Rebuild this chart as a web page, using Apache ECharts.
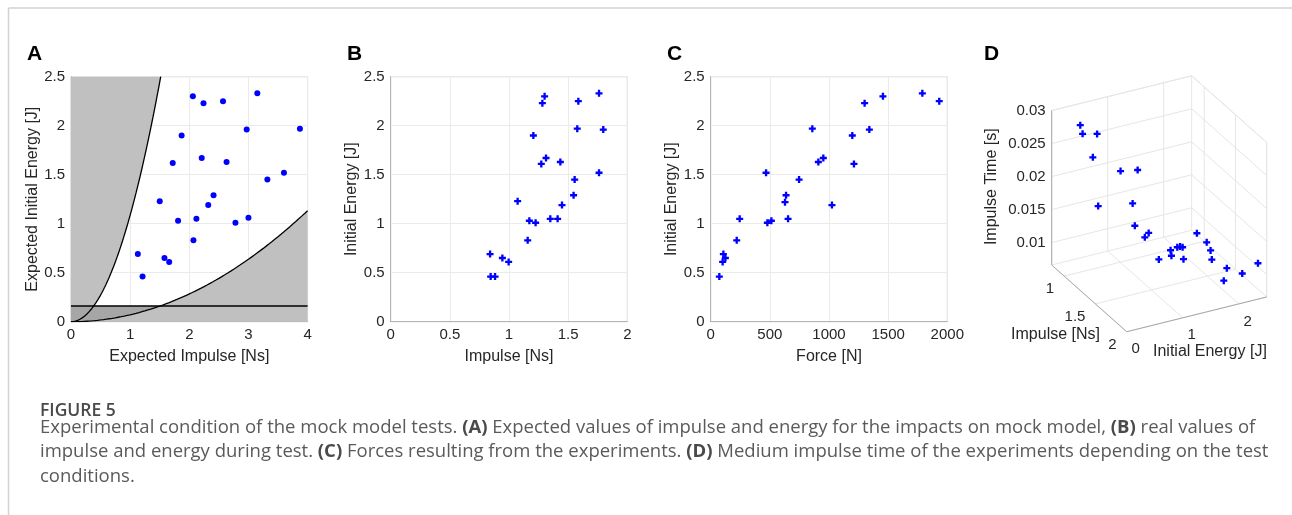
<!DOCTYPE html>
<html>
<head>
<meta charset="utf-8">
<title>Figure 5</title>
<script src="https://cdn.jsdelivr.net/npm/echarts@6/dist/echarts.min.js"></script>
<style>
  html, body { margin: 0; padding: 0; background: #fff; }
  #main { width: 1292px; height: 515px; }
</style>
</head>
<body>
<div id="main"></div>
<script>
// A: expected impulse / expected initial energy
var expImpulse = [1.13, 1.21, 1.50, 1.58, 1.66, 1.72, 1.81, 1.87, 2.06, 2.07, 2.12, 2.21, 2.24, 2.32, 2.41, 2.57, 2.63, 2.78, 2.97, 3.00, 3.15, 3.32, 3.60, 3.87];
var expEnergy  = [0.69, 0.46, 1.23, 0.65, 0.61, 1.62, 1.03, 1.90, 2.30, 0.83, 1.05, 1.67, 2.23, 1.19, 1.29, 2.25, 1.63, 1.01, 1.96, 1.06, 2.33, 1.45, 1.52, 1.97];
// limits drawn in A (E = I^2 / 2m and minimum energy)
var massLight = 0.46, massHeavy = 7.06, minEnergy = 0.16;

// B: measured impulse / initial energy
var impulse = [0.845, 0.882, 0.84, 0.944, 0.997, 1.073, 1.158, 1.172, 1.225, 1.206, 1.282, 1.301, 1.273, 1.313, 1.349, 1.411, 1.434, 1.448, 1.546, 1.555, 1.577, 1.586, 1.761, 1.761, 1.797];
var energyB = [0.46, 0.46, 0.69, 0.65, 0.61, 1.23, 0.83, 1.03, 1.01, 1.90, 2.23, 2.30, 1.61, 1.67, 1.05, 1.05, 1.63, 1.19, 1.29, 1.45, 1.97, 2.25, 2.33, 1.52, 1.96];

// C: force / initial energy
var force   = [73, 101, 107, 124, 220, 245, 468, 479, 513, 628, 637, 654, 747, 859, 910, 952, 1025, 1197, 1211, 1301, 1341, 1456, 1789, 1932];
var energyC = [0.46, 0.61, 0.69, 0.65, 0.83, 1.05, 1.52, 1.01, 1.03, 1.22, 1.29, 1.05, 1.45, 1.97, 1.63, 1.67, 1.19, 1.90, 1.61, 2.23, 1.96, 2.30, 2.33, 2.25];

// D: energy, impulse, impulse time
var dEnergy  = [0.46, 0.46, 0.69, 0.65, 0.61, 1.23, 0.83, 1.03, 1.01, 1.05, 1.05, 1.19, 1.29, 1.61, 1.67, 1.45, 1.63, 1.90, 1.52, 2.23, 1.97, 2.30, 1.96, 2.25, 2.33, 2.40];
var dImpulse = [0.845, 0.882, 0.84, 0.944, 0.997, 1.073, 1.158, 1.172, 1.225, 1.349, 1.411, 1.448, 1.546, 1.273, 1.313, 1.555, 1.434, 1.206, 1.761, 1.282, 1.577, 1.301, 1.797, 1.586, 1.761, 1.95];
var dTime    = [0.0272, 0.0262, 0.0218, 0.0263, 0.0159, 0.0207, 0.0221, 0.0169, 0.0140, 0.0132, 0.0144, 0.0104, 0.0124, 0.0086, 0.0101, 0.0127, 0.0112, 0.0069, 0.0163, 0.0094, 0.0112, 0.0068, 0.0085, 0.0080, 0.0085, 0.0115];
var dEnergyTicks = [0, 1, 2];
var dImpulseTicks = [1, 1.5, 2];
var dTimeTicks = [0.01, 0.015, 0.02, 0.025, 0.03];
var dTimeLabels = ['0.01', '0.015', '0.02', '0.025', '0.03'];
var eLim = [0, 2.5], iLim = [0.8, 2], tLim = [0.0066, 0.03];

var FONT = '"Liberation Sans", Arial, sans-serif';
var CAP_FONT = '"Open Sans", sans-serif';
var BLUE = '#0000ff';
var plusMark = 'path://M2,0H4V2H6V4H4V6H2V4H0V2H2Z';

var chart = echarts.init(document.getElementById('main'));

function zip(a, b) {
  return a.map(function (v, k) { return [v, b[k]]; });
}

// model curve E = I^2/(2m) from I0 to I1
function curve(m, i0, i1) {
  var pts = [], n = 80;
  for (var k = 0; k <= n; k++) {
    var x = i0 + (i1 - i0) * k / n;
    pts.push([x, x * x / (2 * m)]);
  }
  return pts;
}

var iTopLight = Math.sqrt(2.5 * 2 * massLight);
var iCross = Math.sqrt(minEnergy * 2 * massHeavy);
var lightCurve = curve(massLight, 0, iTopLight);
var heavyCurve = curve(massHeavy, 0, 4);
var leftRegion = [[0, 0]].concat(lightCurve, [[0, 2.5]]);
var rightRegion = heavyCurve.concat([[4, 0]]);
var bandRegion = curve(massHeavy, 0, iCross).concat([[0, minEnergy]]);

function polySeries(pts, color, z) {
  return {
    type: 'custom', xAxisIndex: 0, yAxisIndex: 0, z: z, silent: true, data: [0],
    renderItem: function (params, api) {
      return {
        type: 'polygon',
        shape: { points: pts.map(function (p) { return api.coord(p); }) },
        style: { fill: color }
      };
    }
  };
}

function lineSeries(pts) {
  return {
    type: 'line', xAxisIndex: 0, yAxisIndex: 0, data: pts, showSymbol: false, z: 4,
    silent: true, lineStyle: { color: '#000', width: 1.3 }
  };
}

function scatterSeries(idx, data, symbol, size) {
  return {
    type: 'scatter', xAxisIndex: idx, yAxisIndex: idx, data: data, symbol: symbol, symbolSize: size,
    itemStyle: { color: BLUE, opacity: 1 }, z: 5, silent: true
  };
}

// 3D view used for panel D: maps (energy, impulse, time) to plane coords
function proj(e, i, t) {
  return [56 * (e - eLim[0]) + 62.5 * (i - iLim[0]),
          13.9 * (e - eLim[0]) - 55.6 * (i - iLim[0]) + 6600 * (t - tLim[0])];
}
var dxMax = proj(eLim[1], iLim[1], tLim[0])[0];
var dyMin = proj(eLim[0], iLim[1], tLim[0])[1];
var dyMax = proj(eLim[1], iLim[0], tLim[1])[1];
var dOriginY = 265;

function axis2d(grid, min, max, interval, name, gap) {
  return {
    type: 'value', gridIndex: grid, min: min, max: max, interval: interval,
    name: name, nameLocation: 'middle', nameGap: gap,
    nameTextStyle: { color: '#262626', fontSize: 16, fontFamily: FONT },
    axisLine: { show: true, lineStyle: { color: '#b4b4b4', width: 1 } },
    axisTick: { show: false },
    axisLabel: { color: '#262626', fontSize: 15, fontFamily: FONT, margin: 6,
      formatter: function (v) { return String(v); } },
    splitLine: { show: true, lineStyle: { color: '#ebebeb', width: 1 } }
  };
}

function gridBox(left) {
  return {
    left: left, top: 76.7, width: 236.6, height: 245, show: true,
    borderColor: '#c4c4c4', borderWidth: 1, backgroundColor: 'transparent',
    containLabel: false, outerBoundsMode: 'none'
  };
}

function renderBox(params, api) {
  var kids = [];
  function P(e, i, t) { return api.coord(proj(e, i, t)); }
  function seg(a, b, color) {
    kids.push({ type: 'line', shape: { x1: a[0], y1: a[1], x2: b[0], y2: b[1] },
      style: { stroke: color, lineWidth: 1 } });
  }
  function label(p, txt, dx, dy, align) {
    kids.push({ type: 'text', x: p[0] + dx, y: p[1] + dy,
      style: { text: txt, fill: '#262626', fontSize: 15, fontFamily: FONT, align: align, verticalAlign: 'middle' } });
  }
  var GL = '#e6e6e6', AX = '#a8a8a8';
  var e0 = eLim[0], e1 = eLim[1], i0 = iLim[0], i1 = iLim[1], t0 = tLim[0], t1 = tLim[1];
  dEnergyTicks.forEach(function (e) {
    seg(P(e, i0, t0), P(e, i1, t0), GL);
    seg(P(e, i0, t0), P(e, i0, t1), GL);
  });
  dImpulseTicks.forEach(function (i) {
    seg(P(e0, i, t0), P(e1, i, t0), GL);
    seg(P(e1, i, t0), P(e1, i, t1), GL);
  });
  dTimeTicks.forEach(function (t) {
    seg(P(e0, i0, t), P(e1, i0, t), GL);
    seg(P(e1, i0, t), P(e1, i1, t), GL);
  });
  seg(P(e1, i0, t0), P(e1, i0, t1), GL);
  seg(P(e0, i0, t1), P(e1, i0, t1), GL);
  seg(P(e1, i0, t1), P(e1, i1, t1), GL);
  seg(P(e1, i1, t0), P(e1, i1, t1), GL);
  seg(P(e1, i0, t0), P(e1, i1, t0), GL);
  seg(P(e0, i0, t0), P(e1, i0, t0), GL);
  // axes
  seg(P(e0, i0, t0), P(e0, i0, t1), AX);
  seg(P(e0, i0, t0), P(e0, i1, t0), AX);
  seg(P(e0, i1, t0), P(e1, i1, t0), AX);
  dTimeTicks.forEach(function (t, k) { label(P(e0, i0, t), dTimeLabels[k], -6, 0, 'right'); });
  dImpulseTicks.forEach(function (i) { label(P(e0, i, t0), String(i), -10, 13, 'right'); });
  dEnergyTicks.forEach(function (e) { label(P(e, i1, t0), String(e), 9, 17.5, 'center'); });
  return { type: 'group', children: kids };
}

var captionLines = [
  'Experimental condition of the mock model tests. {b|(A)} Expected values of impulse and energy for the impacts on mock model, {b|(B)} real values of',
  'impulse and energy during test. {b|(C)} Forces resulting from the experiments. {b|(D)} Medium impulse time of the experiments depending on the test',
  'conditions.'
];
var captionY = [428, 452, 476.5];

function panelLetter(txt, x) {
  return { type: 'text', x: x, y: 54, style: { text: txt, fill: '#000', fontSize: 21, fontWeight: 'bold', fontFamily: FONT, verticalAlign: 'middle' } };
}

var graphics = [
  { type: 'line', shape: { x1: 8.5, y1: 8, x2: 1292, y2: 8 }, style: { stroke: '#d2d2d2', lineWidth: 1.5 } },
  { type: 'line', shape: { x1: 8.5, y1: 8, x2: 8.5, y2: 515 }, style: { stroke: '#d2d2d2', lineWidth: 1.5 } },
  panelLetter('A', 27),
  panelLetter('B', 347),
  panelLetter('C', 667),
  panelLetter('D', 984),
  { type: 'text', x: 1100, y: 335, style: { text: 'Impulse [Ns]', fill: '#262626', fontSize: 16, fontFamily: FONT, align: 'right', verticalAlign: 'middle' } },
  { type: 'text', x: 1153, y: 351.7, style: { text: 'Initial Energy [J]', fill: '#262626', fontSize: 16, fontFamily: FONT, align: 'left', verticalAlign: 'middle' } },
  { type: 'text', x: 992, y: 186.7, rotation: Math.PI / 2, style: { text: 'Impulse Time [s]', fill: '#262626', fontSize: 16, fontFamily: FONT, align: 'center', verticalAlign: 'middle' } },
  { type: 'text', x: 40, y: 411, style: { text: 'FIGURE 5', fill: '#4a4a4a', fontSize: 17.5, fontWeight: 600, fontFamily: CAP_FONT, verticalAlign: 'middle' } }
];
captionLines.forEach(function (t, k) {
  graphics.push({ type: 'text', x: 40, y: captionY[k], style: {
    text: t, fill: '#5a5a5a', fontSize: 18.5, fontFamily: CAP_FONT, verticalAlign: 'middle',
    rich: { b: { fontWeight: 'bold', fill: '#4a4a4a', fontSize: 18.5, fontFamily: CAP_FONT } }
  } });
});

var option = {
  animation: false,
  backgroundColor: '#fff',
  grid: [
    gridBox(71),
    gridBox(390.7),
    gridBox(710.7),
    { left: 1051.7, top: dOriginY - dyMax, width: dxMax, height: dyMax - dyMin, show: false, containLabel: false, outerBoundsMode: 'none' }
  ],
  xAxis: [
    axis2d(0, 0, 4, 1, 'Expected Impulse [Ns]', 27),
    axis2d(1, 0, 2, 0.5, 'Impulse [Ns]', 27),
    axis2d(2, 0, 2000, 500, 'Force [N]', 27),
    { type: 'value', gridIndex: 3, min: 0, max: dxMax, show: false }
  ],
  yAxis: [
    axis2d(0, 0, 2.5, 0.5, 'Expected Initial Energy [J]', 30),
    axis2d(1, 0, 2.5, 0.5, 'Initial Energy [J]', 30),
    axis2d(2, 0, 2.5, 0.5, 'Initial Energy [J]', 30),
    { type: 'value', gridIndex: 3, min: dyMin, max: dyMax, show: false }
  ],
  series: [
    polySeries(rightRegion, '#c0c0c0', 1),
    polySeries(leftRegion, '#c0c0c0', 1),
    polySeries(bandRegion, '#a6a6a6', 2),
    lineSeries(lightCurve),
    lineSeries(heavyCurve),
    lineSeries([[0, minEnergy], [4, minEnergy]]),
    scatterSeries(0, zip(expImpulse, expEnergy), 'circle', 6),
    scatterSeries(1, zip(impulse, energyB), plusMark, 7),
    scatterSeries(2, zip(force, energyC), plusMark, 7),
    { type: 'custom', xAxisIndex: 3, yAxisIndex: 3, data: [0], z: 1, silent: true, renderItem: renderBox },
    scatterSeries(3, dEnergy.map(function (e, k) { return proj(e, dImpulse[k], dTime[k]); }), plusMark, 7)
  ],
  graphic: graphics
};

chart.setOption(option);
window.addEventListener('resize', function () { chart.resize(); });
</script>
</body>
</html>
